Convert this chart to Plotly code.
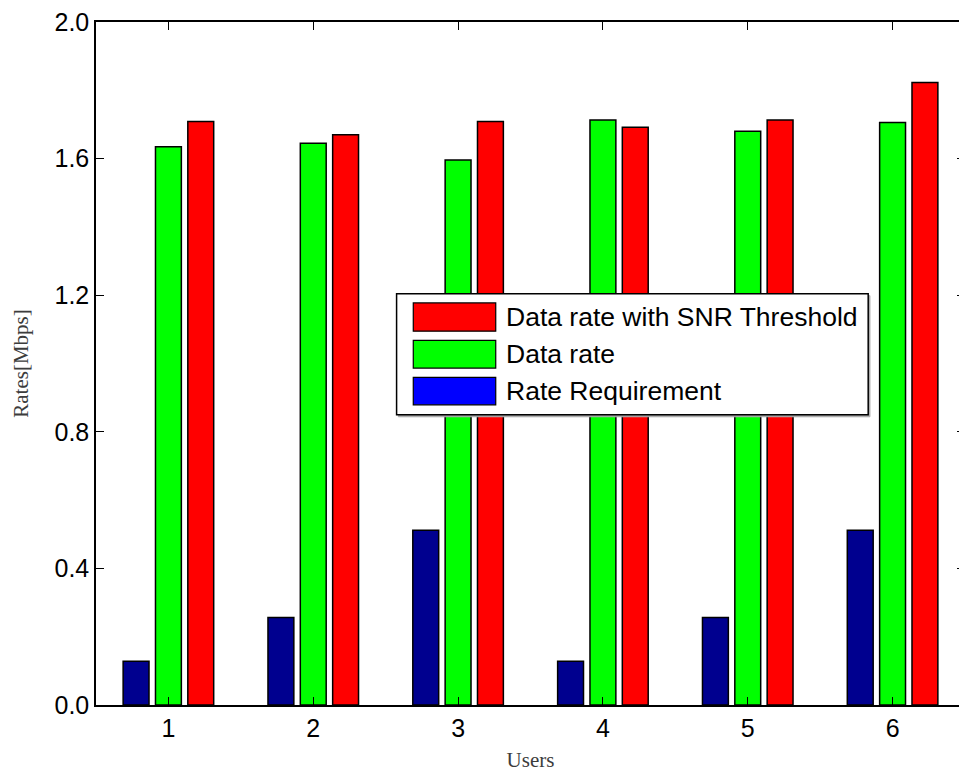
import plotly.graph_objects as go

users = [1, 2, 3, 4, 5, 6]
rate_requirement = [0.128, 0.256, 0.512, 0.128, 0.256, 0.512]
data_rate = [1.635, 1.645, 1.596, 1.713, 1.680, 1.706]
data_rate_snr = [1.709, 1.670, 1.709, 1.692, 1.713, 1.823]
y_ticks = [0.0, 0.4, 0.8, 1.2, 1.6, 2.0]

series = [
    ("Rate Requirement", rate_requirement, "#00008f", "#0000ff"),
    ("Data rate", data_rate, "#00ff00", "#00ff00"),
    ("Data rate with SNR Threshold", data_rate_snr, "#ff0000", "#ff0000"),
]

fig = go.Figure()
for name, vals, col, _ in series:
    fig.add_trace(go.Bar(
        x=users, y=vals, name=name, showlegend=False,
        marker=dict(color=col, line=dict(color="black", width=1.5)),
    ))

# manual legend (box + patches + labels) in paper coordinates
lx0, lx1, ly0, ly1 = 0.3459, 0.8886, 0.425, 0.6023
fig.add_shape(type="rect", xref="paper", yref="paper", x0=lx0 + 0.002, x1=lx1 + 0.002,
              y0=ly0 - 0.003, y1=ly1 - 0.003, line=dict(color="#aaaaaa", width=1),
              fillcolor="#aaaaaa", layer="above")
fig.add_shape(type="rect", xref="paper", yref="paper", x0=lx0, x1=lx1, y0=ly0, y1=ly1,
              line=dict(color="black", width=1.5), fillcolor="white", layer="above")
rows = [(0.5887, 0.5474), (0.5340, 0.4933), (0.4797, 0.4395)]
legend_order = [series[2], series[1], series[0]]
for (top, bot), (name, _, _, lcol) in zip(rows, legend_order):
    fig.add_shape(type="rect", xref="paper", yref="paper", x0=0.3651, x1=0.4600,
                  y0=bot, y1=top, line=dict(color="black", width=1.2),
                  fillcolor=lcol, layer="above")
    fig.add_annotation(xref="paper", yref="paper", x=0.4696, y=(top + bot) / 2,
                       text=name, showarrow=False, xanchor="left", yanchor="middle",
                       font=dict(family="Liberation Sans, Arial", size=26.5, color="black"))

axis_common = dict(
    showline=True, linecolor="black", linewidth=1.5, mirror="ticks",
    ticks="inside", ticklen=8, tickwidth=1.2, tickcolor="black",
    showgrid=False, zeroline=False,
    tickfont=dict(family="Liberation Sans, Arial", size=25, color="black"),
)

fig.update_layout(
    width=975, height=776,
    margin=dict(l=96, r=8, t=19, b=69),
    plot_bgcolor="white", paper_bgcolor="white",
    barmode="group", bargap=0.33, bargroupgap=0.2,
    xaxis=dict(range=[0.5, 6.5], tickvals=users, ticktext=[str(u) for u in users],
               title=dict(text="Users", standoff=12,
                          font=dict(family="Liberation Serif, Times New Roman", size=21, color="#3c3c3c")),
               **axis_common),
    yaxis=dict(range=[0, 2.0], tickvals=y_ticks, tickformat=".1f",
               title=dict(text="Rates[Mbps]", standoff=20,
                          font=dict(family="Liberation Serif, Times New Roman", size=21, color="#3c3c3c")),
               **axis_common),
)

fig.write_html("out.html", post_script="document.body.style.margin='0';document.body.style.overflow='hidden';")
